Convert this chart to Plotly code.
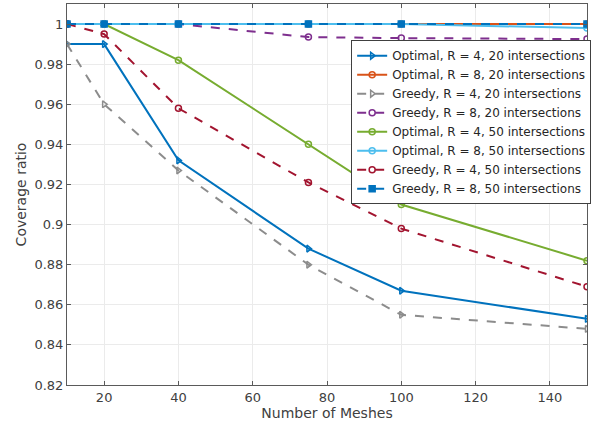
import plotly.graph_objects as go

meshes = [10, 20, 40, 75, 100, 150]

names = [
    "Optimal, R = 4, 20 intersections",
    "Optimal, R = 8, 20 intersections",
    "Greedy, R = 4, 20 intersections",
    "Greedy, R = 8, 20 intersections",
    "Optimal, R = 4, 50 intersections",
    "Optimal, R = 8, 50 intersections",
    "Greedy, R = 4, 50 intersections",
    "Greedy, R = 8, 50 intersections",
]

opt_r4_20 = [0.990, 0.990, 0.932, 0.888, 0.867, 0.853]
opt_r8_20 = [1.000, 1.000, 1.000, 1.000, 1.000, 1.000]
gre_r4_20 = [0.990, 0.960, 0.927, 0.880, 0.855, 0.848]
gre_r8_20 = [1.000, 1.000, 1.000, 0.9935, 0.993, 0.9925]
opt_r4_50 = [1.000, 1.000, 0.982, 0.940, 0.910, 0.882]
opt_r8_50 = [1.000, 1.000, 1.000, 1.000, 1.000, 0.998]
gre_r4_50 = [1.000, 0.995, 0.958, 0.921, 0.898, 0.869]
gre_r8_50 = [1.000, 1.000, 1.000, 1.000, 1.000, 1.000]

series = [opt_r4_20, opt_r8_20, gre_r4_20, gre_r8_20, opt_r4_50, opt_r8_50, gre_r4_50, gre_r8_50]
colors = ["#0072BD", "#D95319", "#8C8C8C", "#7E2F8E", "#77AC30", "#4DBEEE", "#A2142F", "#0072BD"]
dashes = ["solid", "solid", "dash", "dash", "solid", "solid", "dash", "dash"]
symbols = ["triangle-right-open", "circle-open", "triangle-right-open", "circle-open",
           "circle-open", "circle-open", "circle-open", "square"]

fig = go.Figure()
for name, ys, c, d, s in zip(names, series, colors, dashes, symbols):
    fig.add_trace(go.Scatter(
        x=meshes, y=ys, name=name, mode="lines+markers",
        line=dict(color=c, width=2, dash=d),
        marker=dict(symbol=s, size=6, color=c, line=dict(color=c, width=1.5)),
    ))

font = "DejaVu Sans"
fig.update_layout(
    width=600, height=432,
    margin=dict(l=67, r=13, t=4, b=47),
    paper_bgcolor="white", plot_bgcolor="white",
    font=dict(family=font, size=13, color="#404040"),
    showlegend=True,
    legend=dict(
        x=1.008, y=0.905, xanchor="right", yanchor="top",
        bgcolor="white", bordercolor="#404040", borderwidth=1,
        font=dict(family=font, size=12, color="#262626"),
        tracegroupgap=0, itemwidth=30,
    ),
    xaxis=dict(
        range=[10, 150], tickvals=[20, 40, 60, 80, 100, 120, 140],
        title=dict(text="Number of Meshes", font=dict(size=14), standoff=3),
        showgrid=True, gridcolor="#EBEBEB", gridwidth=1,
        showline=True, linecolor="#5A5A5A", linewidth=1, mirror="ticks",
        ticks="inside", ticklen=4, tickcolor="#5A5A5A", zeroline=False,
    ),
    yaxis=dict(
        range=[0.82, 1.01], tickvals=[0.82, 0.84, 0.86, 0.88, 0.9, 0.92, 0.94, 0.96, 0.98, 1],
        ticktext=["0.82", "0.84", "0.86", "0.88", "0.9", "0.92", "0.94", "0.96", "0.98", "1"],
        title=dict(text="Coverage ratio", font=dict(size=14), standoff=4),
        showgrid=True, gridcolor="#EBEBEB", gridwidth=1,
        showline=True, linecolor="#5A5A5A", linewidth=1, mirror="ticks",
        ticks="inside", ticklen=4, tickcolor="#5A5A5A", zeroline=False,
    ),
)

fig.write_html("out.html")
